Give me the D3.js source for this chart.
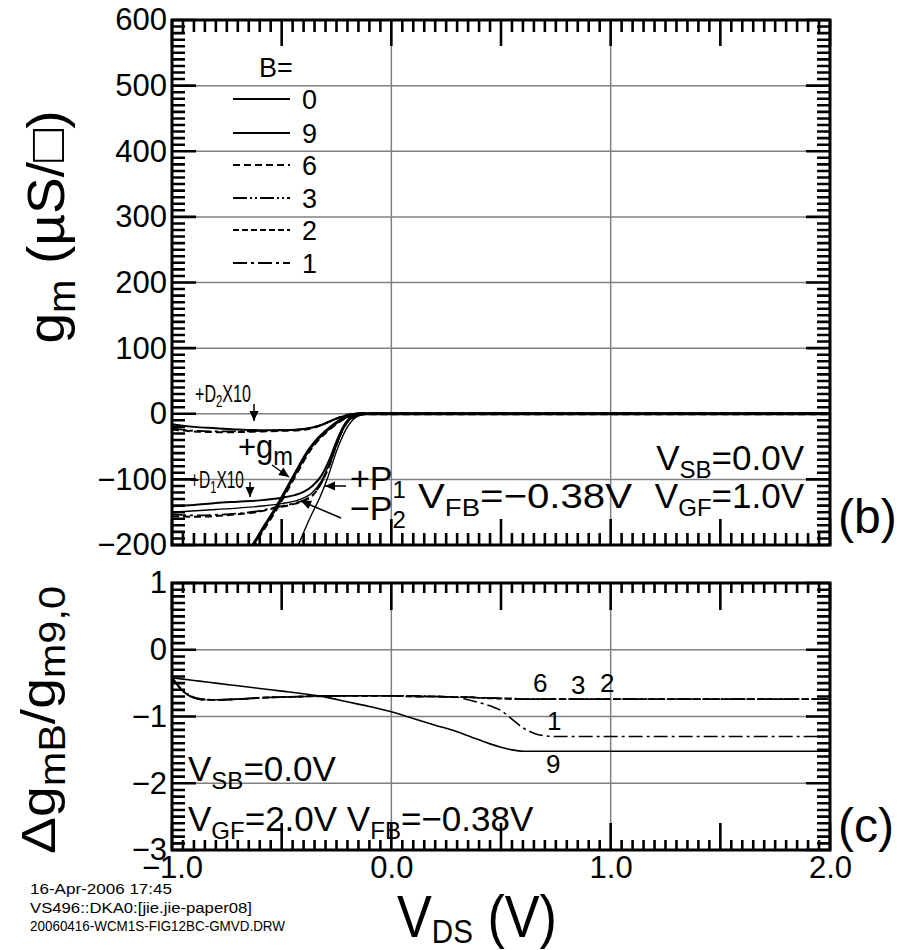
<!DOCTYPE html>
<html><head><meta charset="utf-8">
<script src="https://cdn.jsdelivr.net/npm/d3@7"></script>
<style>
html,body{margin:0;padding:0;background:#fff;}
text{font-family:"Liberation Sans",Arial,Helvetica,sans-serif;fill:#000;}
</style></head>
<body>
<svg id="chart" width="909" height="950"></svg>
<script>
// ---------------- DATA ----------------
// Top panel (b): gm and derivative curves, [V_DS, value]
const gmB0 = [[-0.64,-205],[-0.58,-172],[-0.52,-140],[-0.46,-104],[-0.42,-80],[-0.38,-57],[-0.34,-40],[-0.30,-27],[-0.26,-16],[-0.22,-7],[-0.18,-2],[-0.14,0],[2.0,0]];
const gmB6 = [[-0.635,-205],[-0.575,-172],[-0.515,-140],[-0.455,-104],[-0.415,-80],[-0.375,-57],[-0.335,-40],[-0.295,-27],[-0.255,-16],[-0.215,-7],[-0.175,-2],[-0.135,0],[2.0,0]];
const d2B0 = [[-1,-16],[-0.9,-20],[-0.8,-22],[-0.7,-24],[-0.6,-25],[-0.5,-25],[-0.42,-24],[-0.36,-21],[-0.31,-16],[-0.27,-10],[-0.23,-5],[-0.19,-1],[-0.15,0],[2.0,0]];
const d2B6 = [[-1,-24],[-0.9,-27],[-0.8,-28],[-0.7,-28],[-0.6,-27],[-0.5,-26],[-0.42,-25],[-0.36,-22],[-0.31,-16],[-0.27,-10],[-0.23,-5],[-0.19,-1],[-0.15,0],[2.0,0]];
const d2B1 = [[-1,-22],[-0.9,-26],[-0.8,-27],[-0.7,-27],[-0.6,-26],[-0.5,-25],[-0.42,-24],[-0.36,-21],[-0.31,-16],[-0.27,-10],[-0.23,-5],[-0.19,-1],[-0.15,0],[2.0,0]];
const d1B0 = [[-1,-141],[-0.9,-139],[-0.8,-136],[-0.7,-134],[-0.6,-132],[-0.5,-128],[-0.44,-124],[-0.4,-119],[-0.36,-110],[-0.32,-95],[-0.28,-68],[-0.25,-42],[-0.22,-20],[-0.19,-7],[-0.15,-2],[-0.1,0],[2.0,0]];
const d1B9 = [[-1,-150],[-0.8,-146],[-0.6,-141],[-0.5,-137],[-0.42,-131],[-0.36,-120],[-0.32,-103],[-0.28,-74],[-0.25,-48],[-0.22,-24],[-0.19,-9],[-0.15,-2],[-0.1,0],[2.0,0]];
const d1B6 = [[-1,-156],[-0.9,-157],[-0.8,-156],[-0.7,-153],[-0.6,-149],[-0.52,-143],[-0.45,-138],[-0.4,-133],[-0.36,-125],[-0.32,-106],[-0.29,-85],[-0.26,-57],[-0.23,-30],[-0.2,-12],[-0.16,-3],[-0.12,0],[2.0,0]];
const d1B1 = [[-1,-153],[-0.9,-155],[-0.8,-154],[-0.7,-152],[-0.6,-148],[-0.52,-142],[-0.45,-137],[-0.4,-132],[-0.36,-124],[-0.32,-106],[-0.29,-85],[-0.26,-57],[-0.23,-30],[-0.2,-12],[-0.16,-3],[-0.12,0],[2.0,0]];
const pB9 = [[-0.43,-205],[-0.37,-158],[-0.325,-127],[-0.29,-97],[-0.25,-57],[-0.2,-20],[-0.16,-5],[-0.12,-1],[-0.08,0],[2.0,0]];

// Bottom panel (c): relative change vs V_DS
const vBot = [-1,-0.95,-0.9,-0.85,-0.8,-0.7,-0.6,-0.5,-0.4,-0.3,-0.2,-0.1,0,0.1,0.2,0.3,0.35,0.4,0.45,0.5,0.55,0.6,0.65,0.7,0.75,0.8,1.0,1.5,2.0];
const dB9 = [-0.42,-0.44,-0.46,-0.48,-0.5,-0.54,-0.58,-0.62,-0.66,-0.71,-0.78,-0.85,-0.93,-1.03,-1.13,-1.23,-1.29,-1.35,-1.41,-1.46,-1.50,-1.52,-1.52,-1.52,-1.52,-1.52,-1.52,-1.52,-1.52];
const dB6 = [-0.42,-0.62,-0.72,-0.75,-0.75,-0.74,-0.72,-0.71,-0.70,-0.69,-0.69,-0.69,-0.69,-0.70,-0.70,-0.71,-0.71,-0.72,-0.72,-0.73,-0.73,-0.74,-0.74,-0.74,-0.74,-0.74,-0.74,-0.74,-0.74];
const dB3 = [-0.42,-0.61,-0.71,-0.74,-0.75,-0.74,-0.72,-0.71,-0.70,-0.69,-0.69,-0.69,-0.69,-0.69,-0.70,-0.71,-0.71,-0.72,-0.72,-0.73,-0.73,-0.74,-0.74,-0.74,-0.74,-0.74,-0.74,-0.74,-0.74];
const dB2 = [-0.42,-0.62,-0.72,-0.75,-0.75,-0.74,-0.72,-0.71,-0.70,-0.70,-0.69,-0.69,-0.69,-0.70,-0.70,-0.71,-0.71,-0.72,-0.73,-0.73,-0.74,-0.74,-0.74,-0.74,-0.74,-0.74,-0.74,-0.74,-0.74];
const dB1 = [-0.42,-0.62,-0.72,-0.75,-0.75,-0.74,-0.72,-0.71,-0.70,-0.69,-0.69,-0.69,-0.69,-0.70,-0.70,-0.71,-0.75,-0.79,-0.84,-0.91,-1.04,-1.17,-1.25,-1.29,-1.30,-1.30,-1.30,-1.30,-1.30];

// Axis tick labels
const xTickLabels = [-1, 0, 1, 2];
const yTopLabels = [-200,-100,0,100,200,300,400,500,600];
const yBotLabels = [-3,-2,-1,0,1];
const legendB = ["0","9","6","3","2","1"];
const footer = ["16-Apr-2006 17:45","VS496::DKA0:[jie.jie-paper08]","20060416-WCM1S-FIG12BC-GMVD.DRW"];

// ---------------- LAYOUT ----------------
const svg = d3.select("#chart");
const L = 172, R = 830;
const topT = 20, topB = 545, botT = 583, botB = 850;
const x = d3.scaleLinear().domain([-1, 2]).range([L, R]);
const yT = d3.scaleLinear().domain([-200, 600]).range([topB, topT]);
const yB = d3.scaleLinear().domain([-3, 1]).range([botB, botT]);
const GRID = "#808080";
const FONT = '"Liberation Sans",Arial,Helvetica,sans-serif';

const dashStyles = { d6: "7,4", d3: "14,3,2,3,2,3", d2: "6,3", d1: "14,4,3,4" };

const defs = svg.append("defs");
defs.append("clipPath").attr("id","clipT").append("rect").attr("x",L).attr("y",topT).attr("width",R-L).attr("height",topB-topT);
defs.append("clipPath").attr("id","clipB").append("rect").attr("x",L).attr("y",botT).attr("width",R-L).attr("height",botB-botT);

function steps(a, b, step) { const n = Math.round((b - a) / step); return d3.range(n + 1).map(i => +(a + i * step).toFixed(6)); }

// grid lines (drawn first)
function grid(y, yT0, yB0, yGrid) {
  const g = svg.append("g");
  g.selectAll("line.v").data([0,1]).join("line").attr("class","v")
    .attr("x1",d=>x(d)).attr("x2",d=>x(d)).attr("y1",yT0).attr("y2",yB0)
    .attr("stroke",GRID).attr("stroke-width",1.5);
  g.selectAll("line.h").data(yGrid).join("line").attr("class","h")
    .attr("x1",L).attr("x2",R).attr("y1",d=>y(d)).attr("y2",d=>y(d))
    .attr("stroke",GRID).attr("stroke-width",1.5);
}
grid(yT, topT, topB, steps(-100,500,100));
grid(yB, botT, botB, [-2,-1,0]);

// curves
const lineT = d3.line().x(d=>x(d[0])).y(d=>yT(d[1])).curve(d3.curveMonotoneX);
const topSeries = [
  {data:d2B6, dash:dashStyles.d6, w:2},
  {data:d2B1, dash:dashStyles.d1, w:1.8},
  {data:d2B0, dash:null, w:2},
  {data:d1B6, dash:dashStyles.d6, w:2},
  {data:d1B1, dash:dashStyles.d1, w:1.8},
  {data:d1B9, dash:null, w:1.4},
  {data:d1B0, dash:null, w:2},
  {data:pB9, dash:null, w:1.4},
  {data:gmB6, dash:dashStyles.d6, w:3},
  {data:gmB0, dash:null, w:3}
];
const cT = svg.append("g").attr("clip-path","url(#clipT)");
topSeries.forEach(s => cT.append("path").attr("d", lineT(s.data)).attr("fill","none")
  .attr("stroke","#000").attr("stroke-width",s.w).attr("stroke-dasharray",s.dash));

const lineB = d3.line().x(d=>x(d[0])).y(d=>yB(d[1])).curve(d3.curveMonotoneX);
const botSeries = [
  {vals:dB6, dash:dashStyles.d6, w:1.8},
  {vals:dB3, dash:dashStyles.d3, w:1.6},
  {vals:dB2, dash:dashStyles.d2, w:1.6},
  {vals:dB1, dash:dashStyles.d1, w:1.6},
  {vals:dB9, dash:null, w:1.6}
];
const cB = svg.append("g").attr("clip-path","url(#clipB)");
botSeries.forEach(s => cB.append("path").attr("d", lineB(vBot.map((v,i)=>[v, s.vals[i]]))).attr("fill","none")
  .attr("stroke","#000").attr("stroke-width",s.w).attr("stroke-dasharray",s.dash));

// frames
svg.append("rect").attr("x",L).attr("y",topT).attr("width",R-L).attr("height",topB-topT).attr("fill","none").attr("stroke","#000").attr("stroke-width",3);
svg.append("rect").attr("x",L).attr("y",botT).attr("width",R-L).attr("height",botB-botT).attr("fill","none").attr("stroke","#000").attr("stroke-width",3);

// tick marks: one path per panel, built from the scales
function tickPath(y, yT0, yB0, yMinor, yMajor, xMinorLen, xMajorLen, yMinorLen, yMajorLen) {
  const p = d3.path();
  const xMinor = steps(-1, 2, 0.05), xMajor = steps(-1, 2, 0.5);
  const vt = (vals, len, y0, dir) => vals.forEach(v => { p.moveTo(x(v), y0); p.lineTo(x(v), y0 + dir * len); });
  const ht = (vals, len, x0, dir) => vals.forEach(v => { p.moveTo(x0, y(v)); p.lineTo(x0 + dir * len, y(v)); });
  vt(xMinor, xMinorLen, yB0, -1); vt(xMajor, xMajorLen, yB0, -1);
  vt(xMinor, xMinorLen, yT0, 1);  vt(xMajor, xMajorLen, yT0, 1);
  ht(yMinor, yMinorLen, L, 1);    ht(yMajor, yMajorLen, L, 1);
  ht(yMinor, yMinorLen, R, -1);   ht(yMajor, yMajorLen, R, -1);
  svg.append("path").attr("d", p.toString()).attr("fill","none").attr("stroke","#000").attr("stroke-width",2.6);
}
tickPath(yT, topT, topB, steps(-200,600,10), steps(-200,600,100), 12, 26, 13, 24);
tickPath(yB, botT, botB, steps(-3,1,0.1), steps(-3,1,1), 10, 27, 13, 24);

// tick labels
const fmt = d3.format("");
svg.append("g").attr("transform",`translate(${L},0)`)
  .call(d3.axisLeft(yT).tickValues(yTopLabels).tickSize(0).tickPadding(5).tickFormat(fmt))
  .call(s=>{s.select(".domain").remove(); s.selectAll("line").remove(); s.selectAll("text").attr("font-size",31).attr("font-family",FONT);});
svg.append("g").attr("transform",`translate(${L},0)`)
  .call(d3.axisLeft(yB).tickValues(yBotLabels).tickSize(0).tickPadding(5).tickFormat(fmt))
  .call(s=>{s.select(".domain").remove(); s.selectAll("line").remove(); s.selectAll("text").attr("font-size",31).attr("font-family",FONT);});
svg.append("g").attr("transform",`translate(0,${botB})`)
  .call(d3.axisBottom(x).tickValues(xTickLabels).tickSize(0).tickPadding(6).tickFormat(d3.format(".1f")))
  .call(s=>{s.select(".domain").remove(); s.selectAll("line").remove(); s.selectAll("text").attr("font-size",31).attr("font-family",FONT);});

// rich text helper
function rich(parent, px, py, parts, size, subSize, subDy, anchor, tl) {
  const t = parent.append("text").attr("x",px).attr("y",py).attr("font-size",size).attr("text-anchor",anchor||"start");
  let cur = 0;
  parts.forEach(p => { const target = p[1] ? subDy : 0;
    t.append("tspan").attr("dy", target - cur).attr("font-size", p[1] ? subSize : size).text(p[0]); cur = target; });
  if (tl) t.attr("textLength", tl).attr("lengthAdjust","spacingAndGlyphs");
  return t;
}
// arrow: line plus filled triangle head
function arrow(x1, y1, x2, y2) {
  svg.append("line").attr("x1",x1).attr("y1",y1).attr("x2",x2).attr("y2",y2).attr("stroke","#000").attr("stroke-width",1.5);
  const a = Math.atan2(y2 - y1, x2 - x1), hl = 10, hw = 4.5;
  const bx = x2 - hl * Math.cos(a), by = y2 - hl * Math.sin(a);
  svg.append("path").attr("d", `M${x2},${y2} L${bx - hw*Math.sin(a)},${by + hw*Math.cos(a)} L${bx + hw*Math.sin(a)},${by - hw*Math.cos(a)} Z`).attr("fill","#000");
}

// legend
svg.append("text").attr("x",259).attr("y",77).attr("font-size",27).text("B=");
const legY = [99,133,165,198,230,263];
const legDash = [null,null,dashStyles.d6,dashStyles.d3,dashStyles.d2,dashStyles.d1];
legendB.forEach((b,i)=>{
  svg.append("line").attr("x1",233).attr("x2",290).attr("y1",legY[i]).attr("y2",legY[i])
    .attr("stroke","#000").attr("stroke-width",1.8).attr("stroke-dasharray",legDash[i]);
  svg.append("text").attr("x",302).attr("y",legY[i]+10).attr("font-size",27).text(b);
});

// top annotations
rich(svg, 195, 402, [["+D"],["2",1],["X10"]], 24, 17, 5, "start", 56);
arrow(254, 404, 254, 421);
rich(svg, 190, 488, [["+D"],["1",1],["X10"]], 24, 17, 5, "start", 54);
arrow(250, 482, 250, 497);
rich(svg, 238, 458, [["+g"],["m",1]], 34, 26, 7, "start", 55);
arrow(272, 465, 289, 477);
rich(svg, 350, 490, [["+P"],["1",1]], 34, 24, 8, "start");
arrow(346, 486, 325, 486);
rich(svg, 350, 520, [["\u2212P"],["2",1]], 34, 24, 8, "start");
arrow(341, 518, 301, 501);
rich(svg, 804, 470, [["V"],["SB",1],["=0.0V"]], 35, 24, 8, "end");
rich(svg, 804, 508, [["V"],["GF",1],["=1.0V"]], 35, 24, 8, "end");
rich(svg, 418, 508, [["V"],["FB",1],["=\u22120.38V"]], 35, 24, 8, "start", 214);
svg.append("text").attr("x",838).attr("y",533).attr("font-size",48).text("(b)");

// bottom annotations
const lab = (t, px, py) => svg.append("text").attr("x",px).attr("y",py).attr("font-size",26).text(t);
lab("6",533,692); lab("3",571,694); lab("2",600,692); lab("1",547,730); lab("9",546,773);
rich(svg, 188, 781, [["V"],["SB",1],["=0.0V"]], 35, 24, 8, "start");
rich(svg, 188, 831, [["V"],["GF",1],["=2.0V "],["V"],["FB",1],["=\u22120.38V"]], 35, 24, 8, "start");
svg.append("text").attr("x",838).attr("y",842).attr("font-size",48).text("(c)");

// axis titles
rich(svg, 0, 0, [["g"],["m",1],[" (\u00B5S/\u25A1)"]], 52, 38, 11, "middle", 233).attr("transform","translate(64,227) rotate(-90)");
rich(svg, 0, 0, [["\u0394g"],["mB",1],["/g"],["m9,0",1]], 48, 36, 10, "middle", 268).attr("transform","translate(55,720) rotate(-90)");
rich(svg, 397, 937, [["V"],["DS",1],[" (V)"]], 60, 34, 6, "start", 160);

// footer
footer.forEach((f,i)=> svg.append("text").attr("x",30).attr("y",894+i*18.5).attr("font-size",15).text(f)
  .attr("textLength",[142,222,255][i]).attr("lengthAdjust","spacingAndGlyphs"));
</script>
</body></html>
